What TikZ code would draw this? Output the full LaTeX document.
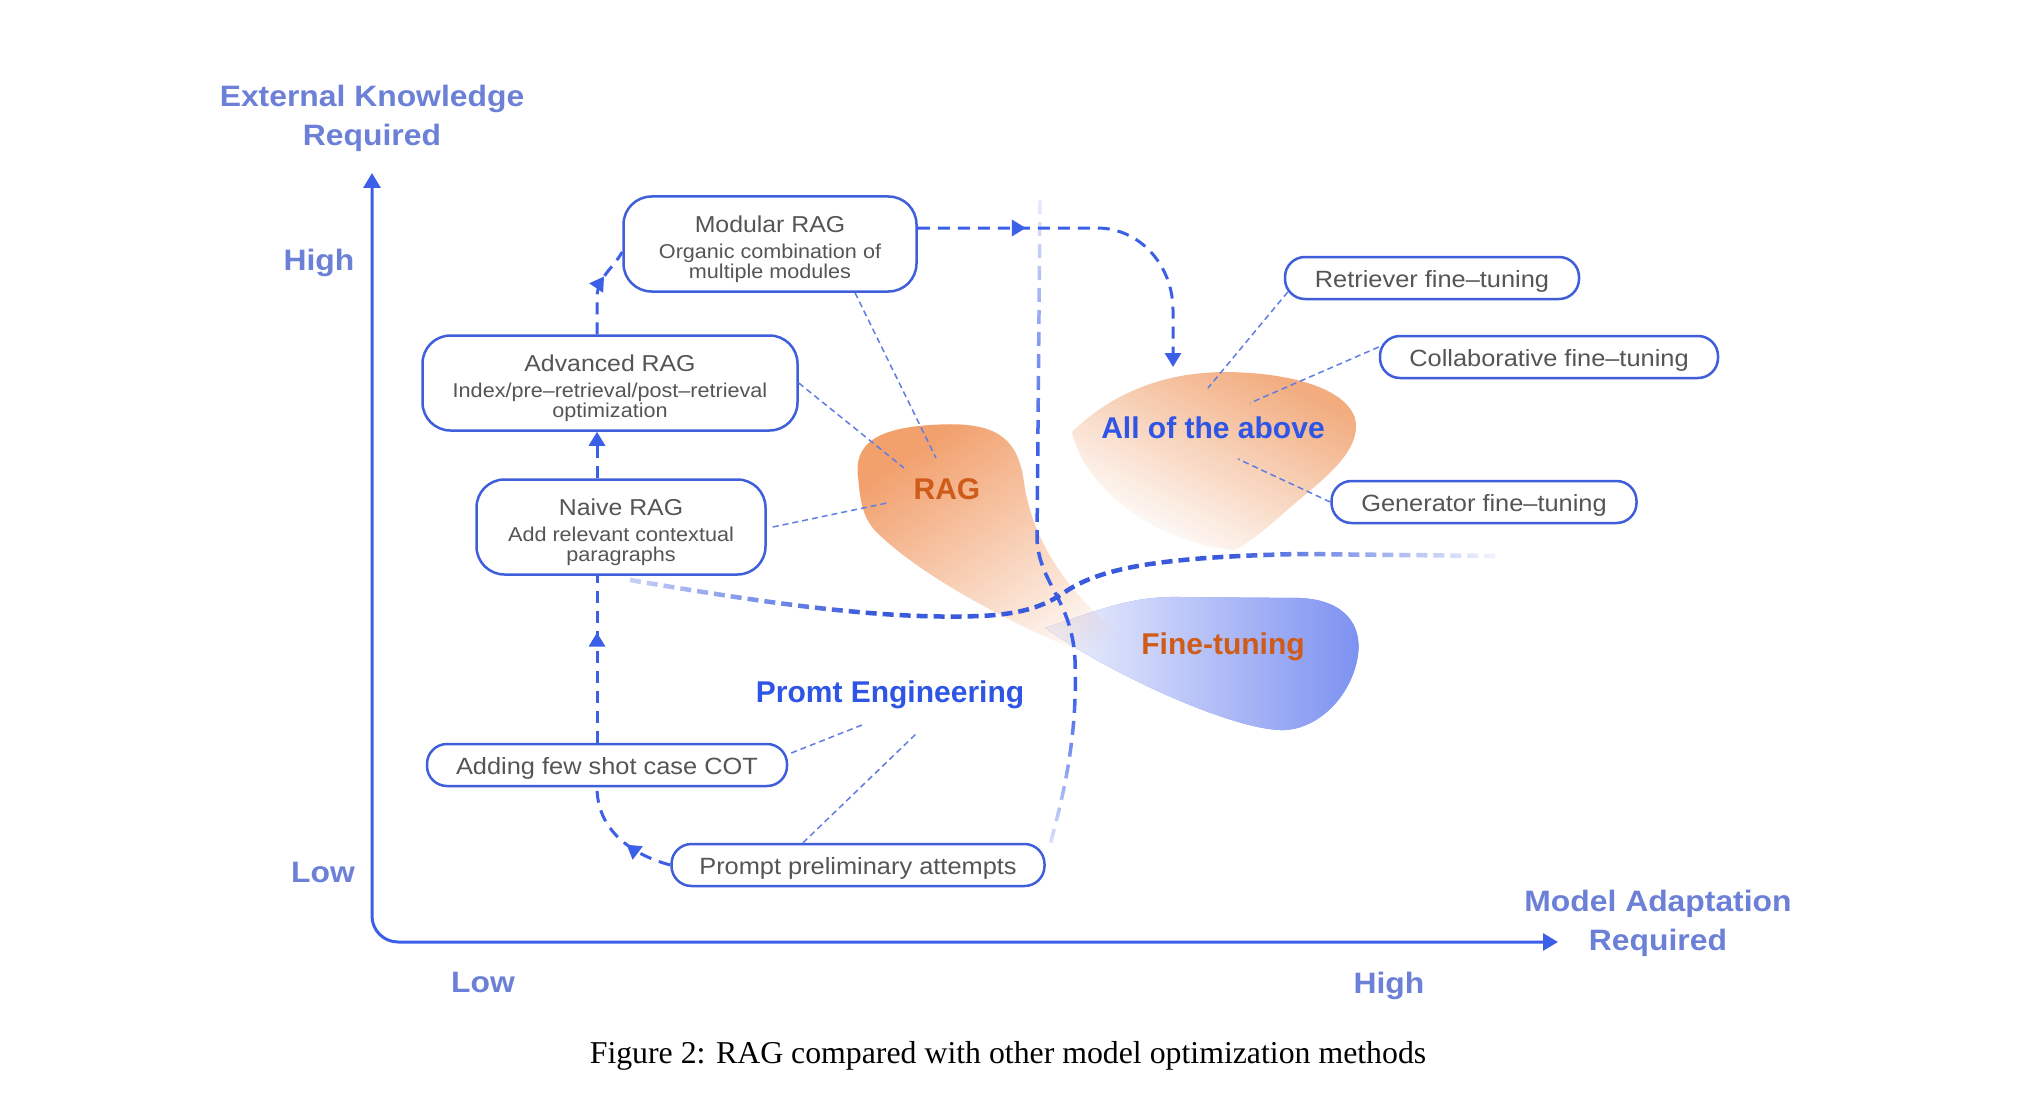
\documentclass[tikz,border=0pt]{standalone}
\usepackage{fontspec}
\setmainfont{Liberation Sans}[FakeStretch=1.08]
\newfontfamily\bigfont{Liberation Sans}
\newfontfamily\capfont{Liberation Serif}
\usetikzlibrary{positioning, arrows.meta, decorations.markings, fadings}

\definecolor{mainblue}{HTML}{3C5FE8}
\definecolor{boxblue}{HTML}{3F5FDA}
\definecolor{boxtext}{HTML}{555555}
\definecolor{axistext}{HTML}{6B80D6}
\definecolor{ragorange}{HTML}{CF5B1A}
\definecolor{labelblue}{HTML}{2E55E6}
\definecolor{ragfill}{HTML}{F2A06C}
\definecolor{allfill}{HTML}{F2AC7E}
\definecolor{ftfill}{HTML}{6F86F0}
\definecolor{pointblue}{HTML}{5F7DE3}

\newcommand{\boxhead}[1]{{\rule{0pt}{27pt}\fontsize{23}{26}\selectfont #1}}

\tikzfading[name=blobfade, top color=transparent!0, middle color=transparent!30, bottom color=transparent!100]
\tikzfading[name=allfade, top color=transparent!0, middle color=transparent!72, bottom color=transparent!100]
\tikzfading[name=fadeup, top color=transparent!8, bottom color=transparent!100]
\tikzfading[name=fadedown, top color=transparent!100, bottom color=transparent!15]
\tikzfading[name=fadeleft, left color=transparent!25, right color=transparent!100]
\tikzfading[name=faderight, left color=transparent!100, right color=transparent!0]

\tikzset{
	bigbox/.style={draw=boxblue, line width=2.5pt, rounded corners=28pt, fill=white, align=center,
		text=boxtext, minimum height=95pt, inner sep=0pt, font=\fontsize{20}{19.5}\selectfont},
	pill/.style={draw=boxblue, line width=2.5pt, rounded corners=20pt, fill=white, text=boxtext,
		minimum height=42pt, inner sep=0pt, text height=23pt, text depth=5pt,
		font=\fontsize{23.5}{26}\selectfont},
	biglabel/.style={font=\bigfont\bfseries\fontsize{30}{34}\selectfont, inner sep=0pt},
	axislabel/.style={font=\bfseries\fontsize{29.5}{39}\selectfont, text=axistext, align=center},
	axisline/.style={draw=mainblue, line width=3pt, rounded corners=26pt,
		{Triangle[width=17pt,length=15pt]}-{Triangle[width=17pt,length=15pt]}},
	flow/.style={draw=mainblue, line width=3pt, dash pattern=on 12pt off 8pt},
	flowtip/.style={-{Triangle[width=16pt,length=14pt]}},
	midarrow/.style={postaction={decorate}, decoration={markings,
		mark=at position #1 with {\arrow{Triangle[width=16pt,length=14pt]}}}},
	pointer/.style={draw=pointblue, line width=1.5pt, dash pattern=on 6pt off 4pt},
}

\begin{document}
\begin{tikzpicture}[x=1pt, y=-1pt]
	\fill[white, use as bounding box] (0,0) rectangle (2034,1102);

	\fill[ftfill] (1045,628) .. controls (1100,610) and (1130,596) .. (1180,597)
		-- (1300,598) .. controls (1345,600) and (1362,625) .. (1358,655)
		.. controls (1352,695) and (1320,728) .. (1285,730)
		.. controls (1240,732) and (1120,680) .. (1045,628) -- cycle;
	\shade[left color=white, middle color=ftfill!35, right color=ftfill!90, opacity=0.9]
		(1045,628) .. controls (1100,610) and (1130,596) .. (1180,597)
		-- (1300,598) .. controls (1345,600) and (1362,625) .. (1358,655)
		.. controls (1352,695) and (1320,728) .. (1285,730)
		.. controls (1240,732) and (1120,680) .. (1045,628) -- cycle;
	\fill[ragfill, path fading=blobfade, fading angle=40]
		(858,478) .. controls (852,440) and (880,424) .. (950,423)
		.. controls (1000,423) and (1018,440) .. (1024,480)
		.. controls (1032,540) and (1070,600) .. (1140,648)
		.. controls (1160,662) and (1140,672) .. (1110,662)
		.. controls (1020,630) and (920,575) .. (875,530)
		.. controls (862,515) and (860,500) .. (858,478) -- cycle;
	\fill[allfill, path fading=allfade, fading angle=-40]
		(1072,432) .. controls (1110,395) and (1160,373) .. (1222,372)
		.. controls (1290,372) and (1345,388) .. (1355,418)
		.. controls (1362,445) and (1335,470) .. (1305,495)
		.. controls (1275,520) and (1255,540) .. (1235,550)
		.. controls (1160,545) and (1085,490) .. (1072,432) -- cycle;

	\draw[mainblue, line width=3.5pt, dash pattern=on 14pt off 8pt]
		(1040,200) -- (1037,540) .. controls (1040,585) and (1072,600) .. (1075,660)
		.. controls (1078,740) and (1062,800) .. (1050,845);
	\draw[mainblue!95!black, line width=4.5pt, dash pattern=on 11pt off 6pt]
		(630,580) .. controls (760,602) and (880,620) .. (980,616)
		.. controls (1030,614) and (1050,602) .. (1065,592)
		.. controls (1100,568) and (1160,557) .. (1300,554) -- (1500,556);
	\fill[white, path fading=fadeup] (1020,190) rectangle (1060,450);
	\fill[white, path fading=fadedown] (1035,690) rectangle (1095,852);
	\fill[white, path fading=fadeleft] (620,566) rectangle (870,628);
	\fill[white, path fading=faderight] (1230,538) rectangle (1512,572);

	\coordinate (ytop) at (372,173);
	\coordinate (origin) at (372,942);
	\coordinate (xend) at (1558,942);
	\draw[axisline] (ytop) -- (origin) -- (xend);

	\node[axislabel] (ylbl) at (372,118) {External Knowledge\\Required};
	\node[axislabel] (xlbl) at (1658,923) {Model Adaptation\\Required};
	\node[axislabel] (yhigh) at (319,263) {High};
	\node[axislabel] (ylow) at (323,872) {Low};
	\node[axislabel] (xlow) at (483,982) {Low};
	\node[axislabel] (xhigh) at (1389,986) {High};

	\node[bigbox, minimum width=293pt] (modular) at (770,244)
		{\boxhead{Modular RAG}\\[6.5pt]Organic combination of\\multiple modules};
	\node[bigbox, minimum width=375pt] (advanced) at (610,383)
		{\boxhead{Advanced RAG}\\[6.5pt]Index/pre–retrieval/post–retrieval\\optimization};
	\node[bigbox, minimum width=289pt] (naive) at (621,527)
		{\boxhead{Naive RAG}\\[6.5pt]Add relevant contextual\\paragraphs};

	\node[pill, minimum width=294pt] (retriever) at (1432,278) {Retriever fine–tuning};
	\node[pill, minimum width=338pt] (collab) at (1549,357) {Collaborative fine–tuning};
	\node[pill, minimum width=305pt] (generator) at (1484,502) {Generator fine–tuning};
	\node[pill, minimum width=360pt] (fewshot) at (607,765) {Adding few shot case COT};
	\node[pill, minimum width=373pt] (prelim) at (858,865) {Prompt preliminary attempts};

	\node[biglabel, text=ragorange] (raglbl) at (947,489) {RAG};
	\node[biglabel, text=labelblue] (alllbl) at (1213,428) {All of the above};
	\node[biglabel, text=ragorange] (ftlbl) at (1223,647) {Fine-tuning};
	\node[biglabel, text=labelblue] (promptlbl) at (890,695) {Promt Engineering};

	\draw[pointer]
		([xshift=85pt]modular.south) edge ([xshift=-11pt,yshift=31pt]raglbl.center)
		(advanced.east) edge ([xshift=-43pt,yshift=21pt]raglbl.center)
		([xshift=6pt]naive.east) edge ([xshift=-60pt,yshift=-14pt]raglbl.center)
		([xshift=4pt,yshift=-14pt]retriever.west) edge ([xshift=-5pt,yshift=40pt]alllbl.center)
		([yshift=10pt]collab.west) edge ([xshift=37pt,yshift=25pt]alllbl.center)
		(generator.west) edge ([xshift=25pt,yshift=-31pt]alllbl.center)
		([xshift=3pt,yshift=12pt]fewshot.east) edge ([xshift=-28pt,yshift=-30pt]promptlbl.center)
		([xshift=-55pt]prelim.north) edge ([xshift=28pt,yshift=-37pt]promptlbl.center);

	\draw[flow, midarrow=0.42] (prelim.west) to[out=165, in=-90] ([xshift=-10pt]fewshot.south);
	\draw[flow, midarrow=0.66] ([xshift=-10pt]fewshot.north) -- ([xshift=-24pt]naive.south);
	\draw[flow, flowtip] ([xshift=-24pt]naive.north) -- ([xshift=-13pt]advanced.south);
	\draw[flow, midarrow=0.66] ([xshift=-13pt]advanced.north) -- ++(0,-36)
		to[out=90, in=240] ([yshift=-8pt]modular.west);
	\draw[flow, flowtip, midarrow=0.3] ([yshift=16pt]modular.east) -- (1097,228)
		to[out=0, in=90] (1173,310) -- ([xshift=-40pt,yshift=61pt]alllbl.center);

	\node[font=\capfont\fontsize{31.8}{36}\selectfont] (caption) at (1008,1056)
		{Figure 2: RAG compared with other model optimization methods};
\end{tikzpicture}
\end{document}
